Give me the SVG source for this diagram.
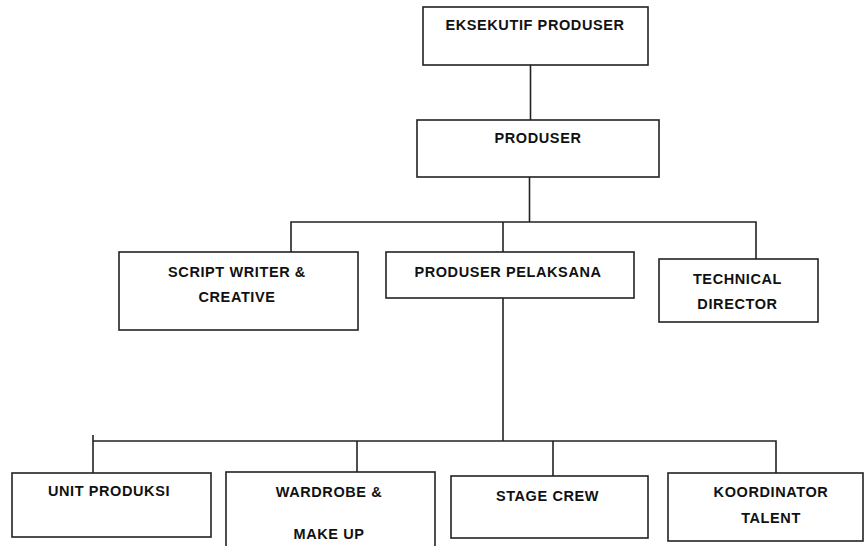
<svg xmlns="http://www.w3.org/2000/svg" width="864" height="546" viewBox="0 0 864 546">
<style>
.box{fill:#fff;stroke:#222;stroke-width:1.6}
.ln{fill:none;stroke:#222;stroke-width:1.6}
text{font-family:"Liberation Sans",Arial,sans-serif;font-weight:bold;font-size:14.5px;letter-spacing:0.6px;fill:#111;text-anchor:middle}
</style>
<rect width="864" height="546" fill="#fff"/>
<g id="connectors">
<path class="ln" d="M530.5 65V120"/>
<path class="ln" d="M529.5 177V222"/>
<path class="ln" d="M291 252V222H756V259"/>
<path class="ln" d="M503 222V252"/>
<path class="ln" d="M503 298V441"/>
<path class="ln" d="M93 473V435"/>
<path class="ln" d="M93 441H776V473"/>
<path class="ln" d="M357 441V472"/>
<path class="ln" d="M553 441V476"/>
</g>
<g id="eksekutif-produser">
<rect class="box" x="423" y="7" width="225" height="58"/>
<text x="535" y="30">EKSEKUTIF PRODUSER</text>
</g>
<g id="produser">
<rect class="box" x="417" y="120" width="242" height="57"/>
<text x="538" y="143">PRODUSER</text>
</g>
<g id="script-writer">
<rect class="box" x="119" y="252" width="239" height="78"/>
<text x="237" y="277">SCRIPT WRITER &amp;</text>
<text x="237" y="302">CREATIVE</text>
</g>
<g id="produser-pelaksana">
<rect class="box" x="386" y="252" width="248" height="46"/>
<text x="508" y="277">PRODUSER PELAKSANA</text>
</g>
<g id="technical-director">
<rect class="box" x="659" y="259" width="159" height="63"/>
<text x="737.5" y="284">TECHNICAL</text>
<text x="737.5" y="309">DIRECTOR</text>
</g>
<g id="unit-produksi">
<rect class="box" x="12" y="473" width="199" height="64"/>
<text x="109" y="496">UNIT PRODUKSI</text>
</g>
<g id="wardrobe">
<rect class="box" x="226" y="472" width="209" height="80"/>
<text x="329" y="497">WARDROBE &amp;</text>
<text x="329" y="539">MAKE UP</text>
</g>
<g id="stage-crew">
<rect class="box" x="451" y="476" width="197" height="62"/>
<text x="547.5" y="501">STAGE CREW</text>
</g>
<g id="koordinator-talent">
<rect class="box" x="668" y="473" width="195" height="68"/>
<text x="771" y="497">KOORDINATOR</text>
<text x="771" y="523">TALENT</text>
</g>
</svg>
